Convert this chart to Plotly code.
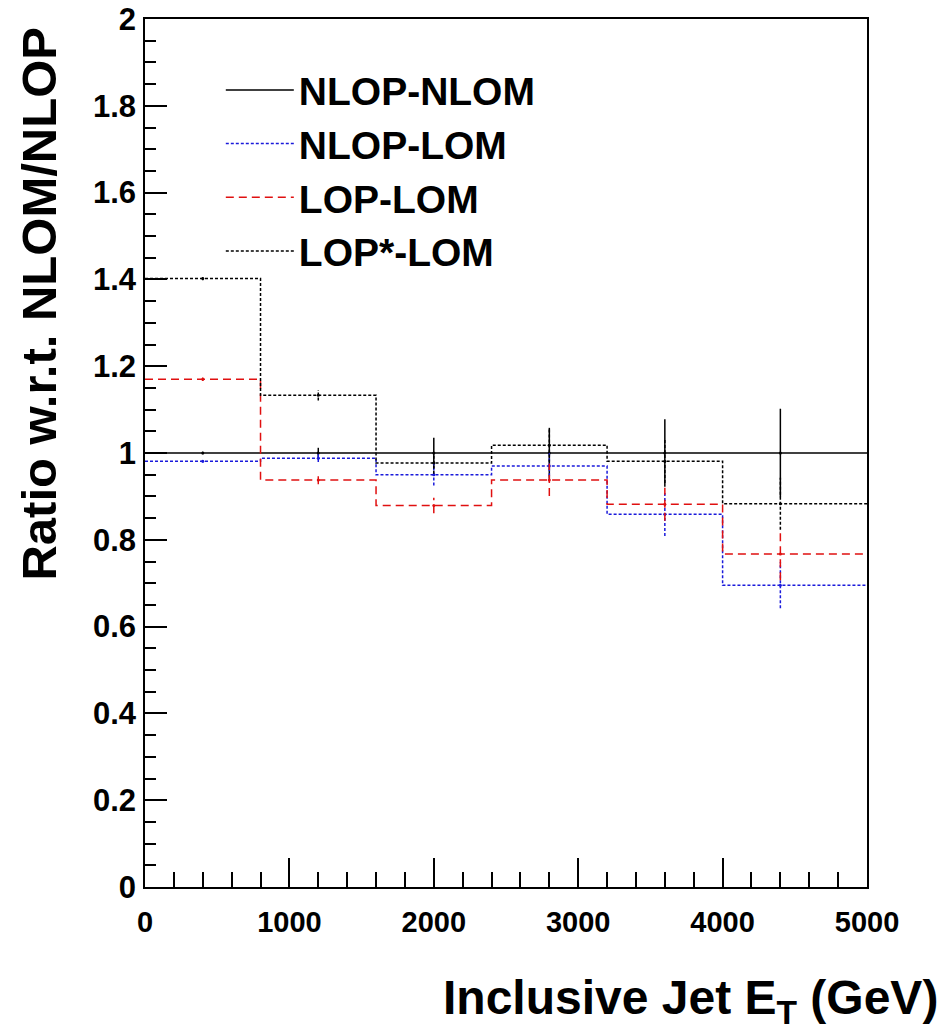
import plotly.graph_objects as go

# ---- data ----
bin_edges = [0, 800, 1600, 2400, 3200, 4000, 4800]
x_end = 5000
series_names = ["NLOP-NLOM", "NLOP-LOM", "LOP-LOM", "LOP*-LOM"]
nlop_nlom = [1.0, 1.0, 1.0, 1.0, 1.0, 1.0]
nlop_nlom_err = [0.003, 0.012, 0.035, 0.058, 0.078, 0.102]
nlop_lom = [0.981, 0.988, 0.950, 0.970, 0.859, 0.695]
nlop_lom_err = [0.003, 0.009, 0.025, 0.035, 0.050, 0.053]
lop_lom = [1.170, 0.938, 0.879, 0.938, 0.882, 0.767]
lop_lom_err = [0.004, 0.010, 0.018, 0.037, 0.038, 0.060]
lops_lom = [1.402, 1.133, 0.977, 1.018, 0.981, 0.883]
lops_lom_err = [0.004, 0.012, 0.025, 0.040, 0.050, 0.060]

x_ticks = [0, 1000, 2000, 3000, 4000, 5000]
y_ticks = [0, 0.2, 0.4, 0.6, 0.8, 1, 1.2, 1.4, 1.6, 1.8, 2]

styles = [
    dict(color="black", dash="solid", width=1.5),
    dict(color="#1a1adb", dash="3px,2px", width=1.5),
    dict(color="#e01010", dash="8px,5px", width=1.5),
    dict(color="black", dash="3px,2px", width=1.5),
]

FONT = "Liberation Sans, Arial, Helvetica, sans-serif"

fig = go.Figure()
all_vals = [nlop_nlom, nlop_lom, lop_lom, lops_lom]
all_errs = [nlop_nlom_err, nlop_lom_err, lop_lom_err, lops_lom_err]
centers = [(bin_edges[i] + bin_edges[i + 1]) / 2 for i in range(len(bin_edges) - 1)]

for name, vals, errs, st in zip(series_names, all_vals, all_errs, styles):
    xs = bin_edges[:-1] + [x_end]
    ys = list(vals) + [vals[-1]]
    fig.add_trace(go.Scatter(x=xs, y=ys, mode="lines", line_shape="hv",
                             line=st, name=name, showlegend=True))
    ex, ey = [], []
    for c, v, e in zip(centers, vals, errs):
        ex += [c, c, None]
        ey += [v - e, v + e, None]
    fig.add_trace(go.Scatter(x=ex, y=ey, mode="lines", line=st,
                             showlegend=False, hoverinfo="skip"))
    fig.add_trace(go.Scatter(x=centers, y=vals, mode="markers",
                             marker=dict(size=3, color=st["color"]),
                             showlegend=False, hoverinfo="skip"))

fig.update_layout(
    width=952, height=1035,
    margin=dict(l=145, r=85, t=19, b=148, autoexpand=False),
    paper_bgcolor="white", plot_bgcolor="white",
    font=dict(family=FONT, color="black"),
    legend=dict(x=0.105, y=0.955, xanchor="left", yanchor="top",
                bgcolor="rgba(0,0,0,0)", borderwidth=0,
                font=dict(size=39, family=FONT, weight="bold"),
                itemwidth=68, tracegroupgap=0),
)
fig.update_xaxes(
    range=[0, x_end], tickvals=x_ticks, ticks="inside", ticklen=29, tickwidth=1.5,
    tickcolor="black", showline=True, linecolor="black", linewidth=1.5, mirror=True,
    showgrid=False, zeroline=False, automargin=False, ticklabeloverflow="allow",
    tickfont=dict(size=29, family=FONT, weight="bold"),
    minor=dict(dtick=200, ticks="inside", ticklen=15, tickwidth=1.5, tickcolor="black", showgrid=False),
    ticklabelstandoff=8,
)
fig.update_yaxes(
    range=[0, 2], tickvals=y_ticks, ticks="inside", ticklen=22, tickwidth=1.5,
    tickcolor="black", showline=True, linecolor="black", linewidth=1.5, mirror=True,
    showgrid=False, zeroline=False, automargin=False, ticklabeloverflow="allow",
    tickfont=dict(size=31, family=FONT, weight="bold"),
    minor=dict(dtick=0.05, ticks="inside", ticklen=11, tickwidth=1.5, tickcolor="black", showgrid=False),
    ticklabelstandoff=1,
)

fig.add_annotation(text="Ratio w.r.t. NLOM/NLOP", xref="paper", yref="paper",
                   x=-0.147, y=0.672, xanchor="center", yanchor="middle", textangle=-90,
                   showarrow=False, font=dict(size=49, family=FONT, weight="bold"))
fig.add_annotation(text="Inclusive Jet E<sub>T</sub> (GeV)", xref="paper", yref="paper",
                   x=1.101, y=-0.131, xanchor="right", yanchor="middle",
                   showarrow=False, font=dict(size=48, family=FONT, weight="bold"))

# remove the default 8px page margin so the figure fills the window exactly
fig.write_html("out.html", config={"displayModeBar": False},
               post_script="document.body.style.margin='0';")
